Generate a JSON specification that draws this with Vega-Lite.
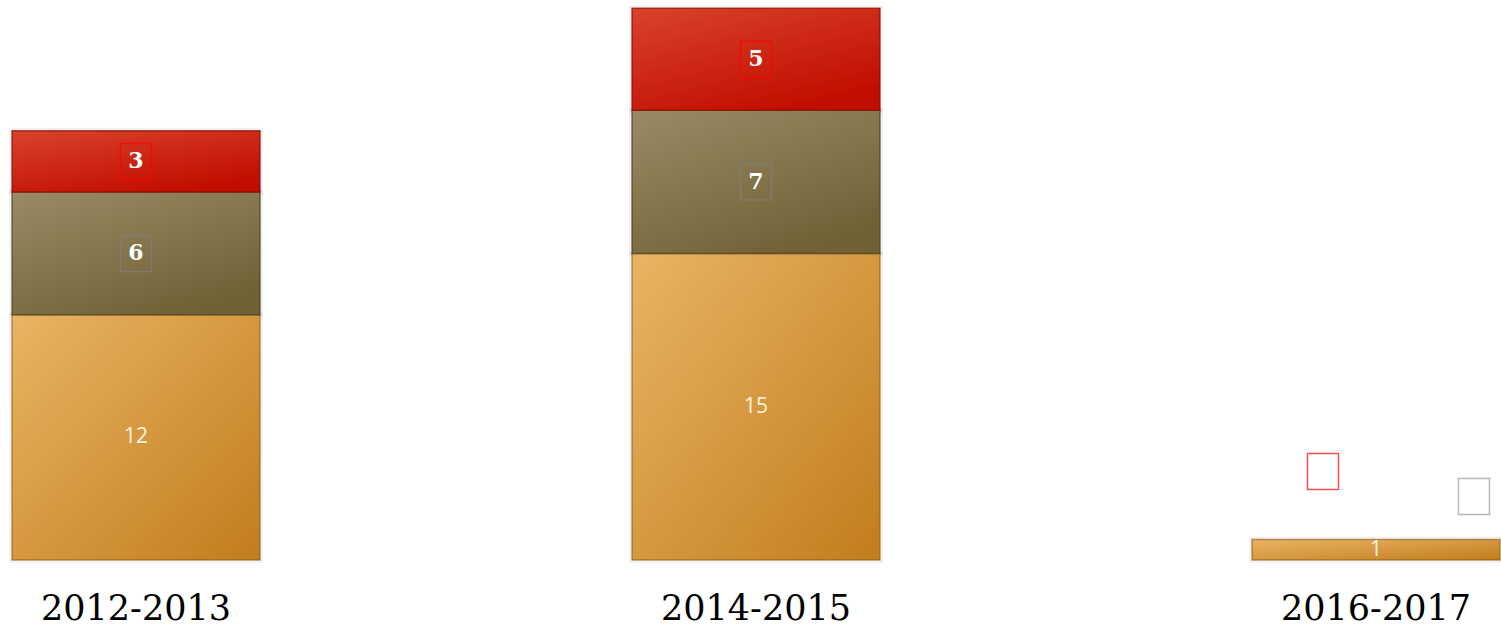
{
  "$schema": "https://vega.github.io/schema/vega-lite/v6.json",
  "autosize": "none",
  "width": 1501,
  "height": 560,
  "padding": {"left": 0, "right": 0, "top": 0, "bottom": 67},
  "background": "white",
  "config": {"view": {"stroke": null}},
  "data": {
    "values": [
      {"year": "2012-2013", "series": "Series 1", "value": 12},
      {"year": "2012-2013", "series": "Series 2", "value": 6},
      {"year": "2012-2013", "series": "Series 3", "value": 3},
      {"year": "2014-2015", "series": "Series 1", "value": 15},
      {"year": "2014-2015", "series": "Series 2", "value": 7},
      {"year": "2014-2015", "series": "Series 3", "value": 5},
      {"year": "2016-2017", "series": "Series 1", "value": 1},
      {"year": "2016-2017", "series": "Series 2", "value": 0},
      {"year": "2016-2017", "series": "Series 3", "value": 0}
    ]
  },
  "transform": [
    {"stack": "value", "groupby": ["year"], "sort": [{"field": "series", "order": "ascending"}], "as": ["y0", "y1"]},
    {"calculate": "(datum.y0 + datum.y1) / 2", "as": "ymid"}
  ],
  "encoding": {
    "x": {
      "field": "year", "type": "nominal", "sort": null,
      "scale": {"paddingInner": 0.6, "paddingOuter": 0.0105, "align": 0.923},
      "axis": {"title": null, "domain": false, "ticks": false, "labelAngle": 0, "labelPadding": 31, "labelLimit": 500,
               "labelFont": "DejaVu Serif", "labelFontSize": 35, "labelColor": "#000000", "labelBaseline": "top"}
    }
  },
  "layer": [
    {
      "transform": [{"filter": "datum.value > 0"}],
      "mark": {"type": "bar", "fill": null, "stroke": "#000000", "strokeOpacity": 0.05, "strokeWidth": 6},
      "encoding": {
        "y": {"field": "y1", "type": "quantitative", "scale": {"domain": [0, 27.4], "nice": false, "zero": true}, "axis": null},
        "y2": {"field": "y0"}
      }
    },
    {
      "transform": [{"filter": "datum.series === 'Series 1' && datum.value > 0"}],
      "mark": {"type": "bar", "stroke": "#8a5a10", "strokeOpacity": 0.6, "strokeWidth": 1.5,
               "fill": {"gradient": "linear", "x1": 0, "y1": 0, "x2": 1, "y2": 1,
                        "stops": [{"offset": 0, "color": "#E9B464"}, {"offset": 1, "color": "#C27D1C"}]}},
      "encoding": {
        "y": {"field": "y1", "type": "quantitative", "axis": null},
        "y2": {"field": "y0"}
      }
    },
    {
      "transform": [{"filter": "datum.series === 'Series 2' && datum.value > 0"}],
      "mark": {"type": "bar", "stroke": "#4a4020", "strokeOpacity": 0.7, "strokeWidth": 1.5,
               "fill": {"gradient": "linear", "x1": 0, "y1": 0, "x2": 0.6, "y2": 1,
                        "stops": [{"offset": 0, "color": "#9A8B66"}, {"offset": 1, "color": "#716236"}]}},
      "encoding": {
        "y": {"field": "y1", "type": "quantitative", "axis": null},
        "y2": {"field": "y0"}
      }
    },
    {
      "transform": [{"filter": "datum.series === 'Series 3' && datum.value > 0"}],
      "mark": {"type": "bar", "stroke": "#8a0a00", "strokeOpacity": 0.7, "strokeWidth": 1.5,
               "fill": {"gradient": "linear", "x1": 0, "y1": 0, "x2": 0.6, "y2": 1,
                        "stops": [{"offset": 0, "color": "#D8432C"}, {"offset": 1, "color": "#C20E00"}]}},
      "encoding": {
        "y": {"field": "y1", "type": "quantitative", "axis": null},
        "y2": {"field": "y0"}
      }
    },
    {
      "transform": [{"filter": "datum.series !== 'Series 1' && datum.value > 0"}],
      "mark": {"type": "point", "shape": "M-0.86,-1L0.86,-1L0.86,1L-0.86,1Z", "size": 1296, "filled": false, "strokeWidth": 1.5},
      "encoding": {
        "y": {"field": "ymid", "type": "quantitative", "axis": null},
        "stroke": {"field": "series", "type": "nominal", "scale": {"domain": ["Series 2", "Series 3"], "range": ["#808080", "#FF0000"]}, "legend": null}
      }
    },
    {
      "transform": [{"filter": "datum.series === 'Series 3' && datum.value === 0"}],
      "mark": {"type": "point", "shape": "M-0.86,-1L0.86,-1L0.86,1L-0.86,1Z", "size": 1296, "filled": false, "strokeWidth": 1.5, "stroke": "#FF0000", "xOffset": -53, "yOffset": -68},
      "encoding": {
        "y": {"field": "y1", "type": "quantitative", "axis": null}
      }
    },
    {
      "transform": [{"filter": "datum.series === 'Series 2' && datum.value === 0"}],
      "mark": {"type": "point", "shape": "M-0.86,-1L0.86,-1L0.86,1L-0.86,1Z", "size": 1296, "filled": false, "strokeWidth": 1.5, "stroke": "#999999", "xOffset": 98, "yOffset": -43},
      "encoding": {
        "y": {"field": "y1", "type": "quantitative", "axis": null}
      }
    },
    {
      "transform": [{"filter": "datum.series !== 'Series 1' && datum.value > 0"}],
      "mark": {"type": "text", "font": "DejaVu Serif", "fontWeight": "bold", "fontSize": 22, "color": "#FFFFFF", "baseline": "middle", "align": "center"},
      "encoding": {
        "y": {"field": "ymid", "type": "quantitative", "axis": null},
        "text": {"field": "value", "type": "quantitative"}
      }
    },
    {
      "transform": [{"filter": "datum.series === 'Series 1' && datum.value > 0"}],
      "mark": {"type": "text", "font": "Open Sans", "fontSize": 21, "color": "#FFF4E0", "baseline": "middle", "align": "center"},
      "encoding": {
        "y": {"field": "ymid", "type": "quantitative", "axis": null},
        "text": {"field": "value", "type": "quantitative"}
      }
    }
  ]
}
